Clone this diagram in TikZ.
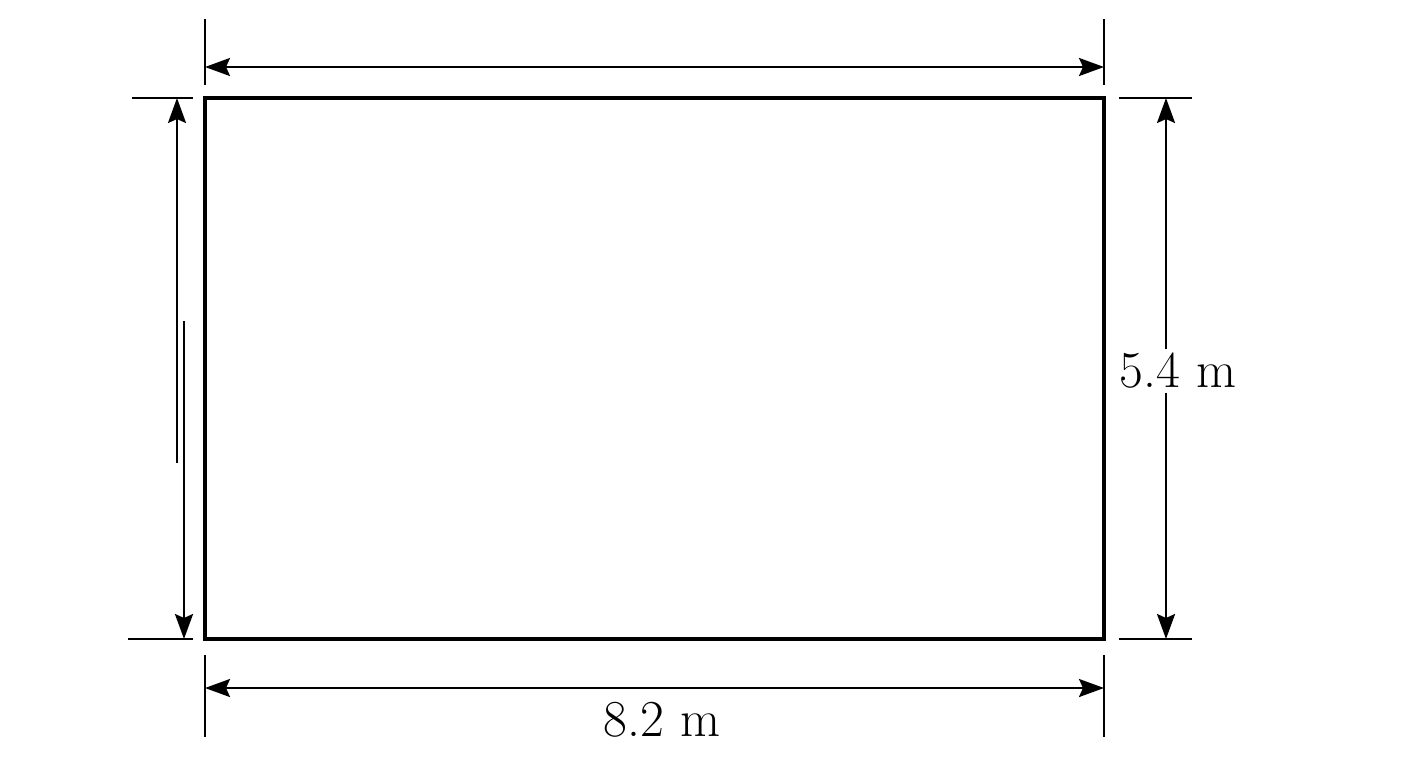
\documentclass[tikz,border=0pt]{standalone}
\usepackage{tikz}
\usetikzlibrary{arrows.meta}
\tikzset{
  wall/.style={line width=1.9pt},
  extline/.style={line width=1.4pt},
  dimline/.style={line width=1.4pt},
  tip/.tip={Stealth[length=0.5cm,width=0.36cm,inset=0.08cm]},
  dimlabel/.style={font=\fontsize{29.5}{34}\selectfont, inner sep=2pt}
}
\begin{document}
\begin{tikzpicture}[x=0.02cm,y=-0.02cm]
  \useasboundingbox (0,0) rectangle (1408,768);

  % The rectangle
  \coordinate (nw) at (205,98);
  \coordinate (se) at (1104,639);
  \draw [wall] (nw) rectangle (se);

  % Top dimension
  \draw [extline] (205,19) -- (205,85)
                  (1104,19) -- (1104,85);
  \coordinate (topl) at (205,67);
  \coordinate (topr) at (1104,67);
  \draw [dimline,tip-tip] (topl) -- (topr);

  % Bottom dimension
  \draw [extline] (205,655) -- (205,737)
                  (1104,655) -- (1104,737);
  \coordinate (botl) at (205,688);
  \coordinate (botr) at (1104,688);
  \draw [dimline,tip-tip] (botl) -- (botr);
  \node [dimlabel] (width) at (662,720) {8.2 m};

  % Right dimension
  \draw [extline] (1119,98) -- (1192,98)
                  (1119,639) -- (1192,639);
  \coordinate (rtop) at (1166,98);
  \coordinate (rbot) at (1166,639);
  \node [dimlabel] (height) at (1178,371) {5.4 m};
  \draw [dimline,-tip] (height.north -| rtop) -- (rtop);
  \draw [dimline,-tip] (height.south -| rbot) -- (rbot);

  % Left dimension
  \draw [extline] (132,98) -- (193,98)
                  (128,639) -- (193,639);
  \coordinate (ltop) at (177,98);
  \coordinate (lmid) at (177,463);
  \coordinate (lstart) at (184,321);
  \coordinate (lbot) at (184,639);
  \draw [dimline,tip-] (ltop) -- (lmid);
  \draw [dimline,-tip] (lstart) -- (lbot);
\end{tikzpicture}
\end{document}
